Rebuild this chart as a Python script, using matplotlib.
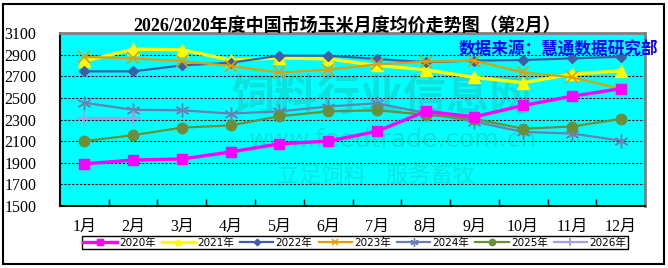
import matplotlib.pyplot as plt
from matplotlib.patches import Rectangle
import numpy as np

plt.rcParams['font.family'] = ['Liberation Serif', 'Noto Sans CJK SC', 'DejaVu Sans']

months = ['1月', '2月', '3月', '4月', '5月', '6月', '7月', '8月', '9月', '10月', '11月', '12月']
y2020 = [1890, 1925, 1935, 2000, 2075, 2100, 2190, 2375, 2325, 2430, 2515, 2585]
y2021 = [2840, 2950, 2945, 2850, 2870, 2860, 2800, 2760, 2690, 2640, 2720, 2750]
y2022 = [2745, 2745, 2800, 2825, 2890, 2890, 2860, 2830, 2845, 2850, 2865, 2880]
y2023 = [2880, 2865, 2840, 2795, 2735, 2760, 2810, 2835, 2845, 2735, 2690, 2585]
y2024 = [2455, 2390, 2385, 2355, 2375, 2420, 2450, 2360, 2280, 2185, 2170, 2105]
y2025 = [2100, 2155, 2225, 2245, 2330, 2375, 2385, 2345, 2305, 2215, 2235, 2305]
y2026 = [2310, 2310]
yticks = [1500, 1700, 1900, 2100, 2300, 2500, 2700, 2900, 3100]

fig = plt.figure(figsize=(6.68, 2.68), dpi=100)
ax = fig.add_axes([0.0898, 0.2313, 0.8758, 0.6456])
ax.set_facecolor('#00FFFF')

x = np.arange(len(months))

# faint watermark
wm = '#19c4b8'
ax.text(0.55, 0.63, '饲料行业信息网', transform=ax.transAxes, ha='center', va='center',
        fontsize=31, fontweight='bold', color=wm, alpha=0.5, family='Noto Sans CJK SC', zorder=1)
ax.text(0.57, 0.38, 'www.feedtrade.com.cn', transform=ax.transAxes, ha='center', va='center',
        fontsize=18, color=wm, alpha=0.5, family='DejaVu Sans', zorder=1)
ax.text(0.54, 0.18, '立足饲料    服务畜牧', transform=ax.transAxes, ha='center', va='center',
        fontsize=16, fontstyle='italic', color=wm, alpha=0.45, family='Noto Sans CJK SC', zorder=1)

for v in yticks[1:-1]:
    ax.axhline(v, color='black', lw=0.8, ls=(0, (2, 1.5)), zorder=2)

ax.plot(x, y2020, color='#FF00FF', lw=2.4, marker='s', ms=7, label='2020年', zorder=9)
ax.plot(x, y2021, color='#FFFF00', lw=2.4, marker='^', ms=8, label='2021年', zorder=4)
ax.plot(x, y2022, color='#3E5EA8', lw=1.6, marker='D', ms=5.5, label='2022年', zorder=5)
ax.plot(x, y2023, color='#E0A000', lw=1.6, marker='x', ms=8, mew=1.2, label='2023年', zorder=6)
ax.plot(x, y2024, color='#6A80B2', lw=1.6, marker=(6, 2, 0), ms=10, mew=1.0, label='2024年', zorder=7)
ax.plot(x, y2025, color='#6B8E3A', lw=1.6, marker='o', ms=7.5, label='2025年', zorder=8)
ax.plot(x[:len(y2026)], y2026, color='#A8A0E0', lw=1.6, marker='+', ms=10, mew=1.4, label='2026年', zorder=7)

ax.set_xlim(-0.5, len(months) - 0.5)
ax.set_ylim(yticks[0], yticks[-1])
ax.set_yticks(yticks)
ax.set_xticks(x)
ax.set_xticklabels(months)
ax.set_xticks(np.arange(len(months) - 1) + 0.5, minor=True)
ax.tick_params(axis='x', which='major', length=0, pad=9, labelsize=11.5)
ax.tick_params(axis='x', which='minor', direction='in', length=5, width=1, color='black')
ax.tick_params(axis='y', length=0, pad=17, labelsize=11.5)

for s in ['left', 'bottom']:
    ax.spines[s].set_color('black')
    ax.spines[s].set_linewidth(1.5)
for s in ['top', 'right']:
    ax.spines[s].set_color('#808080')
    ax.spines[s].set_linewidth(2)

fig.text(0.52, 0.905, '2026/2020年度中国市场玉米月度均价走势图（第2月）', ha='center', va='center',
         fontsize=13, fontweight='bold', family=['Liberation Serif', 'Noto Sans CJK SC'])
fig.text(0.985, 0.815, '数据来源：慧通数据研究部', ha='right', va='center',
         fontsize=12, fontweight='bold', color='#0000FF', family='Noto Sans CJK SC', zorder=20)

leg = fig.legend(loc='center', bbox_to_anchor=(0.531, 0.095), ncol=7,
                 handlelength=3.2, columnspacing=0.6, handletextpad=0.2, borderpad=0.15,
                 markerscale=0.6, fancybox=False, framealpha=1,
                 prop={'family': ['DejaVu Sans', 'Noto Sans CJK SC'], 'size': 7.5})
leg.get_frame().set_edgecolor('black')
leg.get_frame().set_linewidth(1)

fig.patches.append(Rectangle((0.005, 0.015), 0.989, 0.97, transform=fig.transFigure,
                             fill=False, edgecolor='black', lw=1.5))

fig.savefig('out.png', dpi=100)
